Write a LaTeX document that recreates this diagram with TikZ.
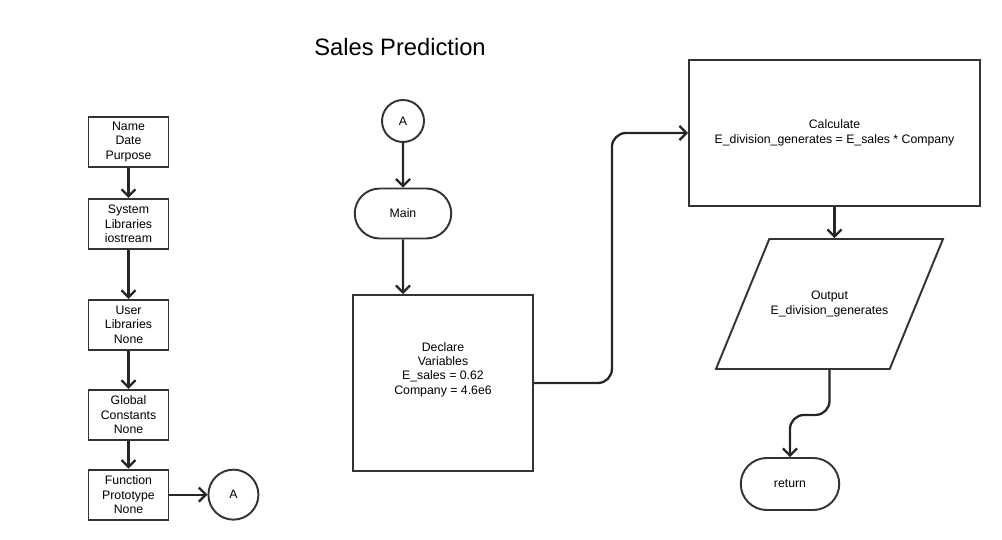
\documentclass[tikz,border=0pt]{standalone}
\usepackage{fontspec}
\setmainfont{Liberation Sans}
\usetikzlibrary{positioning,shapes.geometric,shapes.misc,arrows.meta}
\tikzset{
  box/.style={draw=black!80, line width=1.1pt, rectangle, inner sep=1pt, align=center, font=\fontsize{7}{8.2}\selectfont},
  leftbox/.style={box, minimum width=1.6cm, minimum height=1cm},
  term/.style={box, rounded rectangle, minimum width=2cm, minimum height=1cm},
  conn/.style={box, circle, inner sep=0pt},
  io/.style={box, trapezium, trapezium left angle=67, trapezium right angle=113, trapezium stretches body,
             inner xsep=0pt, inner ysep=1cm, minimum width=4.54cm, minimum height=2.6cm},
  flow/.style={draw=black!85, line width=1.3pt, -{Straight Barb[length=4pt,width=8pt]}},
}
\begin{document}
\begin{tikzpicture}[x=0.02cm, y=-0.02cm]
    \useasboundingbox (0,0) rectangle (1002,540);
    \node[font=\fontsize{13.5}{16}\selectfont] (title) at (400,47) {Sales Prediction};

    \node[leftbox] (head) at (128.5,142) {Name\\Date\\Purpose};
    \node[leftbox, below=0.6cm of head] (syslib) {System\\Libraries\\iostream};
    \node[leftbox, below=0.98cm of syslib] (usrlib) {User\\Libraries\\None};
    \node[leftbox, below=0.76cm of usrlib] (glob) {Global\\Constants\\None};
    \node[leftbox, below=0.56cm of glob] (proto) {Function\\Prototype\\None};
    \node[conn, minimum size=1cm, right=0.76cm of proto] (gotoA) {A};
    \draw[flow] (head) -- (syslib);
    \draw[flow] (syslib) -- (usrlib);
    \draw[flow] (usrlib) -- (glob);
    \draw[flow] (glob) -- (proto);
    \draw[flow] (proto) -- (gotoA);

    \node[conn, minimum size=0.84cm] (startA) at (403,121) {A};
    \node[term] (main) at (403,213.5) {Main};
    \node[box, minimum width=3.6cm, minimum height=3.52cm,
          label={[align=center, font=\fontsize{7}{8.2}\selectfont, yshift=7.7pt]center:Declare\\Variables\\E\_sales = 0.62\\Company = 4.6e6}] (decl) at (443,383) {};
    \node[box, minimum width=5.82cm, minimum height=2.92cm] (calc) at (834.5,133) {Calculate\\E\_division\_generates = E\_sales * Company};
    \node[io] (out) at (829.5,304) {Output\\E\_division\_generates};
    \node[term, minimum width=2.04cm, minimum height=1.04cm] (ret) at (790,484) {return};
    \draw[flow] (startA) -- (main);
    \draw[flow] (main) -- (main |- decl.north);
    \draw[flow, rounded corners=8pt] (decl.east) -- ++(78,0) |- (calc.west);
    \draw[flow] (calc) -- (calc |- out.north);
    \draw[flow, rounded corners=8pt] (out.south) -- ++(0,45) -| (ret.north);
\end{tikzpicture}
\end{document}
